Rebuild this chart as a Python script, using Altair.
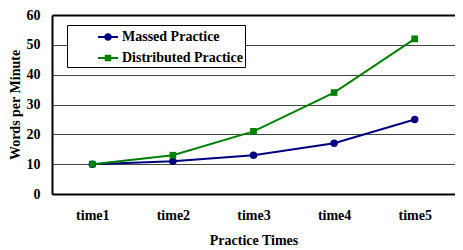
import altair as alt
import pandas as pd

times = ["time1", "time2", "time3", "time4", "time5"]
massed = [10, 11, 13, 17, 25]
distributed = [10, 13, 21, 34, 52]
series = ["Massed Practice", "Distributed Practice"]
colors = ["#000080", "#008000"]
y_ticks = [0, 10, 20, 30, 40, 50, 60]

rows = []
for t, m, d in zip(times, massed, distributed):
    rows.append({"time": t, "series": series[0], "wpm": m})
    rows.append({"time": t, "series": series[1], "wpm": d})
df = pd.DataFrame(rows)

legend_shapes = [
    "M-1,-0.1H1V0.1H-1Z M-0.38,0A0.38,0.38,0,1,1,0.38,0A0.38,0.38,0,1,1,-0.38,0Z",
    "M-1,-0.1H1V0.1H-1Z M-0.33,-0.33H0.33V0.33H-0.33Z",
]

FONT = "Liberation Serif, Times New Roman, DejaVu Serif, serif"

leg = alt.Legend(
    orient="none", legendX=15, legendY=10,
    title="MM", titleOrient="left", titlePadding=2, titleColor="white",
    titleFont=FONT, titleFontSize=14, titleFontWeight="bold",
    strokeColor="black", fillColor="white", padding=2,
    symbolSize=400, labelOffset=4, rowPadding=4,
    symbolStrokeWidth=0,
    labelFont=FONT, labelFontSize=14, labelFontWeight="bold", labelColor="black",
    labelExpr="datum.label + '\u00a0\u00a0\u00a0\u00a0\u00a0\u00a0\u00a0\u00a0'",
)

x = alt.X(
    "time:N", sort=times, title="Practice Times",
    scale=alt.Scale(type="point", padding=0.5),
    axis=alt.Axis(labelAngle=0, ticks=False, domainColor="black", domainWidth=2,
                  labelPadding=14, titlePadding=11, grid=False),
)
y = alt.Y(
    "wpm:Q", title="Words per Minute",
    scale=alt.Scale(domain=[0, 60]),
    axis=alt.Axis(
        values=y_ticks, ticks=False, labelPadding=12, titlePadding=4,
        domainColor="black", domainWidth=2,
        gridColor={"condition": {"test": "datum.value == 60", "value": "black"}, "value": "#444444"},
        gridWidth={"condition": {"test": "datum.value == 60", "value": 2}, "value": 1},
    ),
)
color = alt.Color("series:N", scale=alt.Scale(domain=series, range=colors), legend=leg)

base = alt.Chart(df).encode(x=x, y=y, color=color)

legend_layer = base.mark_point(filled=True, opacity=1).encode(
    shape=alt.Shape("series:N", scale=alt.Scale(domain=series, range=legend_shapes), legend=leg)
).transform_filter("false")

lines = base.mark_line(strokeWidth=2)
circles = base.mark_point(shape="circle", filled=True, size=56, opacity=1).transform_filter(
    alt.datum.series == series[0]
)
squares = base.mark_point(shape="square", filled=True, size=45, opacity=1).transform_filter(
    alt.datum.series == series[1]
)

chart = alt.layer(legend_layer, lines, circles, squares).properties(
    width=403, height=179,
    padding={"left": 0, "top": 0, "right": 0, "bottom": 0},
    background="white",
).configure_view(stroke=None).configure_axis(
    labelFont=FONT, titleFont=FONT, labelFontSize=14, titleFontSize=14,
    labelFontWeight="bold", titleFontWeight="bold", labelColor="black", titleColor="black",
)

chart.save("out.html", embed_options={"renderer": "svg", "actions": False})
